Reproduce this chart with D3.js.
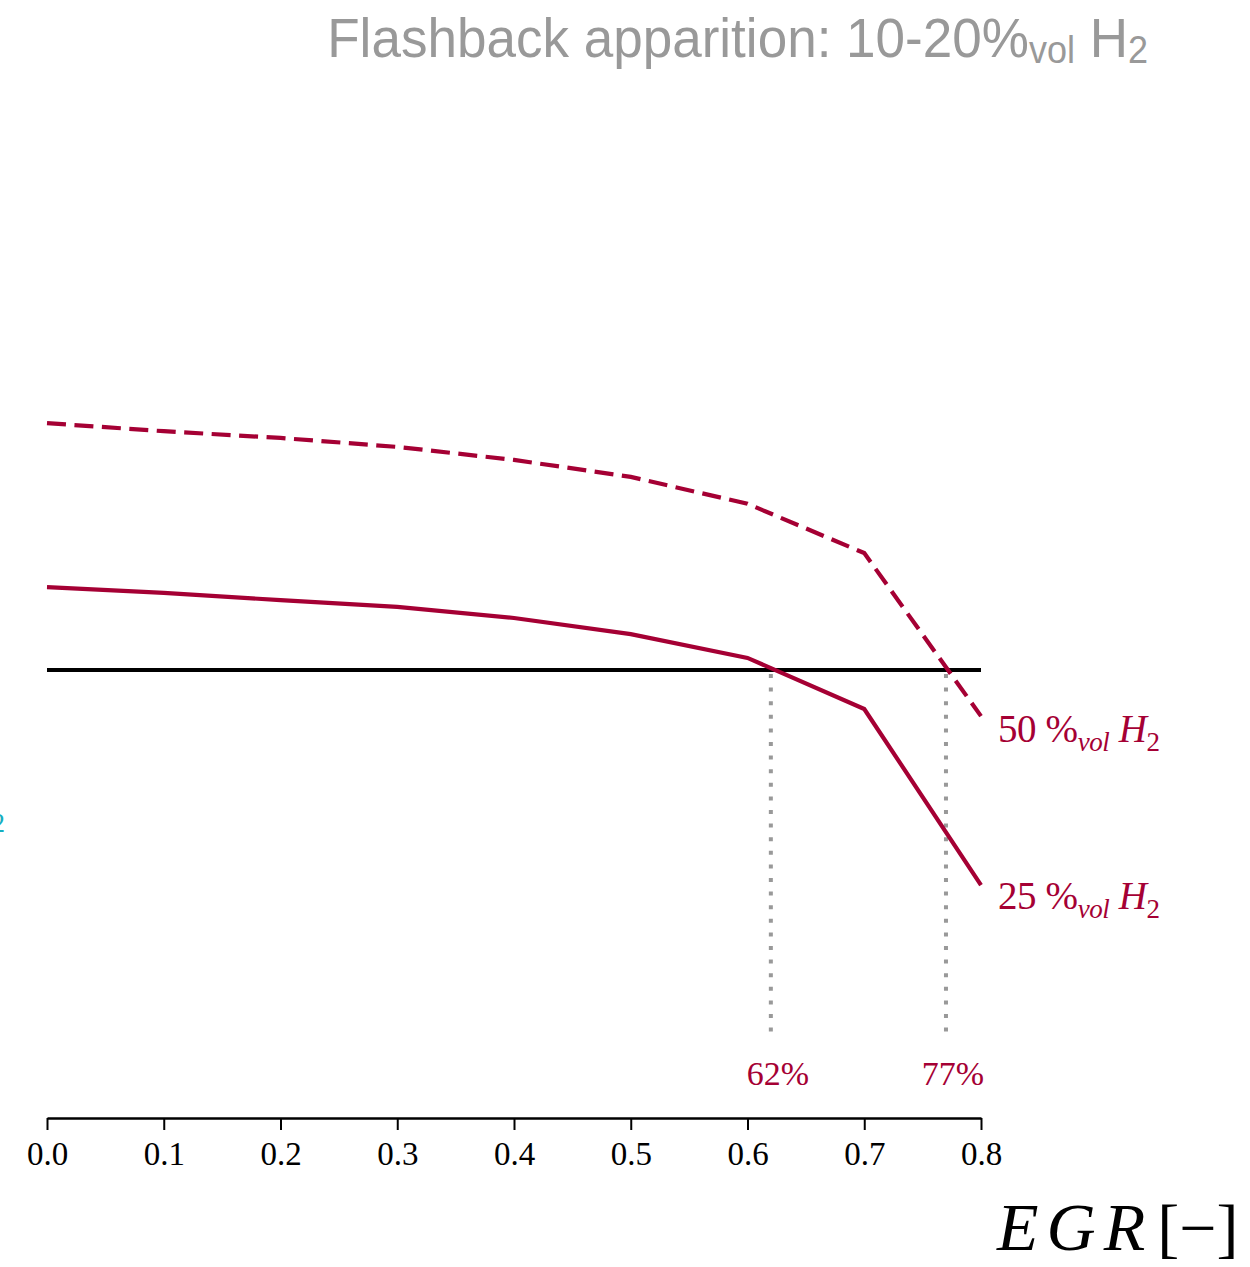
<!DOCTYPE html>
<html>
<head>
<meta charset="utf-8">
<script src="https://cdn.jsdelivr.net/npm/d3@7"></script>
<style>
  html, body { margin: 0; padding: 0; background: #fff; }
  svg { display: block; }
</style>
</head>
<body>
<svg id="chart" width="1250" height="1267"></svg>
<script>
// EGR fraction sampled along the x axis
const egr = [0.0, 0.1, 0.2, 0.3, 0.4, 0.5, 0.6, 0.7, 0.8];
// Flashback indicator, normalised so that the critical threshold equals 1
const h2_50 = [1.551, 1.533, 1.518, 1.498, 1.469, 1.431, 1.371, 1.261, 0.897];
const h2_25 = [1.185, 1.172, 1.156, 1.141, 1.116, 1.080, 1.027, 0.913, 0.520];
const threshold = 1.0;
// EGR levels where each blend crosses the threshold
const crossings = [0.62, 0.77];
const crossingLabels = ["62%", "77%"];
const xTicks = [0.0, 0.1, 0.2, 0.3, 0.4, 0.5, 0.6, 0.7, 0.8];

const crimson = "#a50034";
const svg = d3.select("#chart");

const x = d3.scaleLinear().domain([0, 0.8]).range([47, 981]);
const y = d3.scaleLinear().domain([0, 1]).range([1118, 670]);

const line = d3.line().x((d, i) => x(egr[i])).y(d => y(d));

// Title
const title = svg.append("text")
  .attr("x", 1148).attr("y", 57)
  .attr("text-anchor", "end")
  .attr("fill", "#999999")
  .style("font-family", "'Liberation Sans', Arial, sans-serif")
  .style("font-size", "56px");
title.append("tspan").text("Flashback apparition: 10-20%");
title.append("tspan").attr("font-size", "38px").attr("dy", 6).text("vol");
title.append("tspan").attr("dy", -6).text(" H");
title.append("tspan").attr("font-size", "38px").attr("dy", 6).text("2");
{
  const w = title.node().getComputedTextLength();
  const target = 1148 - 327;
  const s = target / w;
  title.attr("transform", `translate(${1148 * (1 - s)},0) scale(${s},1)`);
}

// Threshold line
svg.append("line")
  .attr("x1", x(0)).attr("x2", x(0.8))
  .attr("y1", y(threshold)).attr("y2", y(threshold))
  .attr("stroke", "#000").attr("stroke-width", 4);

// Dotted markers at the crossing points
svg.selectAll("line.cross").data(crossings).enter().append("line")
  .attr("class", "cross")
  .attr("x1", d => x(d)).attr("x2", d => x(d))
  .attr("y1", y(threshold) + 4).attr("y2", 1032)
  .attr("stroke", "#999999").attr("stroke-width", 4)
  .attr("stroke-dasharray", "4,9.6");

svg.selectAll("text.cross").data(crossings).enter().append("text")
  .attr("class", "cross")
  .attr("x", d => x(d) + 7).attr("y", 1085)
  .attr("text-anchor", "middle")
  .attr("fill", crimson)
  .style("font-family", "'Liberation Serif', 'DejaVu Serif', serif")
  .style("font-size", "34px")
  .text((d, i) => crossingLabels[i]);

// Series curves
svg.append("path").datum(h2_50)
  .attr("d", line).attr("fill", "none")
  .attr("stroke", crimson).attr("stroke-width", 4.2)
  .attr("stroke-dasharray", "19,8.5");
svg.append("path").datum(h2_25)
  .attr("d", line).attr("fill", "none")
  .attr("stroke", crimson).attr("stroke-width", 4.2);

// End-of-line labels
function h2Label(g, pct, color, anchor) {
  const t = g.append("text")
    .attr("fill", color)
    .attr("text-anchor", anchor)
    .style("font-family", "'Liberation Serif', 'DejaVu Serif', serif")
    .style("font-size", "39px");
  t.append("tspan").text(pct + " %");
  t.append("tspan").attr("font-size", "27px").attr("font-style", "italic").attr("dy", 9).text("vol");
  t.append("tspan").attr("font-style", "italic").attr("dy", -9).text(" H");
  t.append("tspan").attr("font-size", "27px").attr("dy", 9).text("2");
  return t;
}
h2Label(svg, "50", crimson, "start")
  .attr("x", x(0.8) + 17).attr("y", y(h2_50[h2_50.length - 1]) + 26)
  .attr("letter-spacing", -0.4);
h2Label(svg, "25", crimson, "start")
  .attr("x", x(0.8) + 17).attr("y", y(h2_25[h2_25.length - 1]) + 24)
  .attr("letter-spacing", -0.4);

// Neighbouring series label entering from the left edge
h2Label(svg, "10", "#17aebf", "end").attr("x", 5).attr("y", 823);

// X axis
const xAxis = d3.axisBottom(x)
  .tickValues(xTicks)
  .tickFormat(d3.format(".1f"))
  .tickSizeOuter(0)
  .tickSizeInner(12)
  .tickPadding(12);
const ax = svg.append("g").attr("transform", "translate(0,1118)").call(xAxis);
ax.select(".domain").attr("stroke", "#000").attr("stroke-width", 2.5);
ax.selectAll(".tick line").attr("stroke", "#000").attr("stroke-width", 2);
ax.selectAll(".tick text")
  .attr("fill", "#000")
  .style("font-family", "'Liberation Serif', 'DejaVu Serif', serif")
  .style("font-size", "33px");

// Axis title
const xl = svg.append("text")
  .attr("x", 997).attr("y", 1250)
  .attr("fill", "#000")
  .style("font-family", "'Liberation Serif', 'DejaVu Serif', serif")
  .style("font-size", "68px");
xl.append("tspan").attr("font-style", "italic").attr("letter-spacing", 8).text("EGR");
xl.append("tspan").attr("dx", 4).attr("font-size", "66px").text("[−]");
</script>
</body>
</html>
